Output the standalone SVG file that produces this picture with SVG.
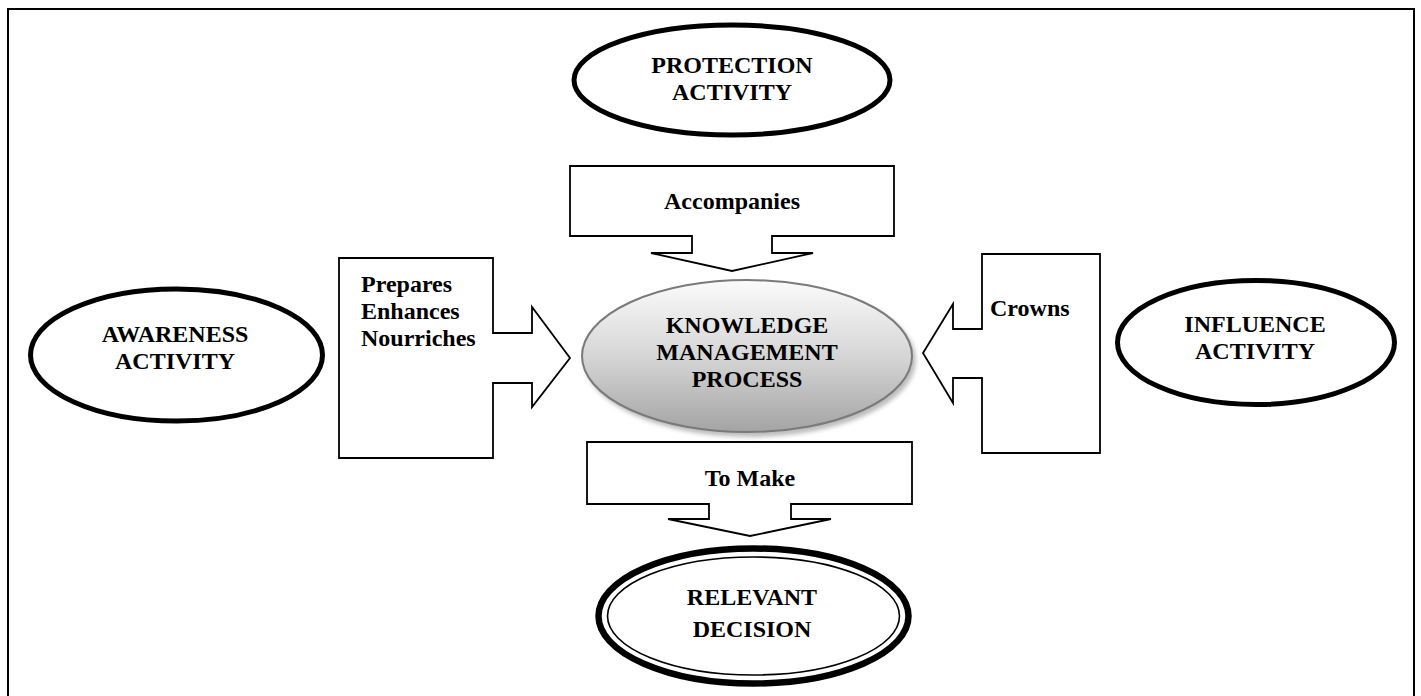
<svg xmlns="http://www.w3.org/2000/svg" width="1421" height="696" viewBox="0 0 1421 696">
  <defs>
    <linearGradient id="kmpGrad" x1="0" y1="0" x2="0" y2="1">
      <stop offset="0" stop-color="#fbfbfb"/>
      <stop offset="0.5" stop-color="#d6d6d6"/>
      <stop offset="1" stop-color="#a4a4a4"/>
    </linearGradient>
    <filter id="blur" x="-10%" y="-10%" width="120%" height="120%">
      <feGaussianBlur stdDeviation="2"/>
    </filter>
  </defs>
  <style>
    .lbl { font-family: "Liberation Serif", "Times New Roman", serif; font-weight: bold; font-size: 24px; fill: #000; }
    .mid { text-anchor: middle; }
    .act { fill: #fff; stroke: #000; stroke-width: 5; }
    .callout { fill: #fff; stroke: #000; stroke-width: 1.8; stroke-linejoin: miter; }
    .frame { fill: none; stroke: #000; stroke-width: 2; }
  </style>
  <rect x="0" y="0" width="1421" height="696" fill="#fff"/>
  <polyline class="frame" points="8,696 8,9 1414,9 1414,696"/>

  <g id="connectors">
    <g id="accompanies">
      <polygon class="callout" points="570,166 894,166 894,236 772,236 772,253 813,253 732,271 651,253 692,253 692,236 570,236"/>
      <text class="lbl mid" x="732" y="209">Accompanies</text>
    </g>
    <g id="prepares">
      <polygon class="callout" points="339,258 493,258 493,333 532,333 532,307 570,358 532,407 532,383 493,383 493,458 339,458"/>
      <text class="lbl" x="361" y="292">Prepares</text>
      <text class="lbl" x="361" y="319">Enhances</text>
      <text class="lbl" x="361" y="346">Nourriches</text>
    </g>
    <g id="crowns">
      <polygon class="callout" points="982,254 1100,254 1100,453 982,453 982,378 953,378 953,403 923,353 953,304 953,329 982,329"/>
      <text class="lbl" x="990" y="316">Crowns</text>
    </g>
    <g id="tomake">
      <polygon class="callout" points="587,442 912,442 912,504 791,504 791,519 831,519 750,536 668,519 709,519 709,504 587,504"/>
      <text class="lbl mid" x="750" y="486">To Make</text>
    </g>
  </g>

  <g id="protection">
    <ellipse class="act" cx="732" cy="80" rx="158" ry="55"/>
    <text class="lbl mid" x="732" y="73">PROTECTION</text>
    <text class="lbl mid" x="732" y="100">ACTIVITY</text>
  </g>

  <g id="awareness">
    <ellipse class="act" cx="176.5" cy="355" rx="146" ry="66" stroke-width="5.5"/>
    <text class="lbl mid" x="175" y="342">AWARENESS</text>
    <text class="lbl mid" x="175" y="369">ACTIVITY</text>
  </g>

  <g id="influence">
    <ellipse class="act" cx="1256" cy="342.5" rx="138.5" ry="62"/>
    <text class="lbl mid" x="1255" y="332">INFLUENCE</text>
    <text class="lbl mid" x="1255" y="359">ACTIVITY</text>
  </g>

  <g id="kmp">
    <ellipse cx="750" cy="360" rx="166" ry="77" fill="#bdbdbd" filter="url(#blur)"/>
    <ellipse cx="747" cy="356" rx="165" ry="76" fill="url(#kmpGrad)" stroke="#7a7a7a" stroke-width="2"/>
    <text class="lbl mid" x="747" y="333">KNOWLEDGE</text>
    <text class="lbl mid" x="747" y="360">MANAGEMENT</text>
    <text class="lbl mid" x="747" y="387">PROCESS</text>
  </g>

  <g id="relevant">
    <ellipse cx="753.5" cy="616" rx="155" ry="67.5" fill="#fff" stroke="#000" stroke-width="6.5"/>
    <ellipse cx="753.5" cy="616" rx="146" ry="59" fill="none" stroke="#000" stroke-width="1.6"/>
    <text class="lbl mid" x="752" y="605">RELEVANT</text>
    <text class="lbl mid" x="752" y="637">DECISION</text>
  </g>
</svg>
